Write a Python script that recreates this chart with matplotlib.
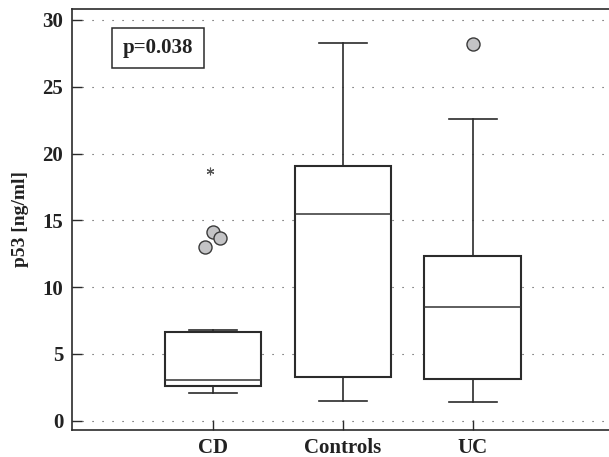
import matplotlib
matplotlib.use("Agg")
import matplotlib.pyplot as plt

groups = ["CD", "Controls", "UC"]
whis_low = [2.07, 1.50, 1.42]
q1 = [2.57, 3.29, 3.10]
median = [3.07, 15.47, 8.51]
q3 = [6.62, 19.06, 12.33]
whis_high = [6.77, 28.25, 22.56]
outliers = [[13.0, 14.1, 13.7], [], [28.22]]
extremes = [[18.7], [], []]
p_text = "p=0.038"
y_ticks = [0, 5, 10, 15, 20, 25, 30]

# horizontal shifts so the CD circles do not sit on top of each other
jitter = [[-0.06, 0.0, 0.06], [], [0.0]]

plt.rcParams['font.family'] = ['Liberation Serif', 'DejaVu Serif']
plt.rcParams['font.weight'] = 'bold'

fig = plt.figure(figsize=(6.09, 4.57), dpi=100)
ax = fig.add_axes([0.1177, 0.0591, 0.8823, 0.9212])

pos = list(range(1, len(groups) + 1))
stats = []
for i, g in enumerate(groups):
    stats.append(dict(label=g, med=median[i], q1=q1[i], q3=q3[i],
                      whislo=whis_low[i], whishi=whis_high[i], fliers=[]))

edge = '#2b2b2b'
ax.bxp(stats, positions=pos, widths=0.74, patch_artist=True, showfliers=False,
       capwidths=0.37, zorder=3,
       boxprops=dict(facecolor='white', edgecolor=edge, linewidth=1.5),
       whiskerprops=dict(color=edge, linewidth=1.2),
       capprops=dict(color=edge, linewidth=1.2),
       medianprops=dict(color='#333333', linewidth=1.1))

for i, p in enumerate(pos):
    for v, dx in zip(outliers[i], jitter[i]):
        ax.plot(p + dx, v, 'o', ms=9.4, mfc='#c4c4c6', mec='#3a3a3a', mew=1.0, zorder=4)
    for v in extremes[i]:
        ax.plot(p - 0.02, v, marker=(6, 2, 0), ms=5.5, color='#555555', mew=0.8, ls='none', zorder=4)

ax.yaxis.grid(True, color='#444444', linestyle=(0, (1, 8)), linewidth=0.8, zorder=0)
ax.set_axisbelow(True)

ax.set_xlim(-0.085, 4.05)
ax.set_ylim(-0.7, 30.82)
ax.set_yticks(y_ticks)
ax.set_xticks(pos)
ax.set_xticklabels(groups)
ax.tick_params(direction='in', length=7, width=1.0, color=edge, labelsize=15)
ax.tick_params(axis='y', pad=6)
ax.tick_params(axis='x', pad=6)
for lab in ax.get_xticklabels() + ax.get_yticklabels():
    lab.set_fontweight('bold')
    lab.set_color('#222222')

ax.spines['right'].set_visible(False)
for s in ['left', 'top', 'bottom']:
    ax.spines[s].set_linewidth(1.2)
    ax.spines[s].set_color(edge)

ax.set_ylabel('p53 [ng/ml]', fontsize=14, fontweight='bold', color='#222222', labelpad=10)

ax.text(0.58, 27.9, p_text, ha='center', va='center', fontsize=15, fontweight='bold',
        color='#222222', zorder=5,
        bbox=dict(boxstyle='square,pad=0.5', facecolor='white', edgecolor=edge, linewidth=1.1))

fig.savefig('out.png', dpi=100)
